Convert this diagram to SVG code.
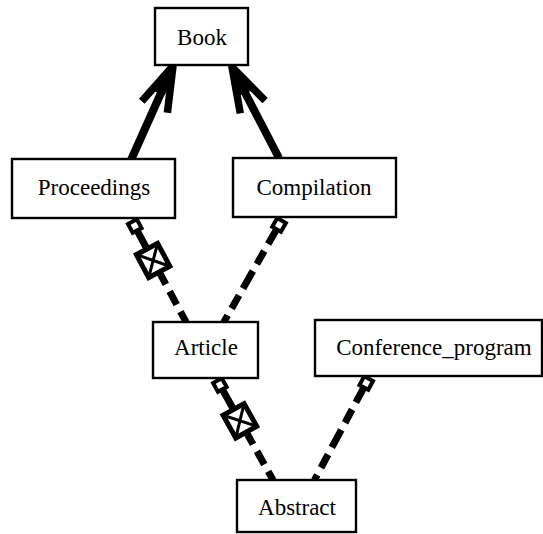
<svg xmlns="http://www.w3.org/2000/svg" width="543" height="534" viewBox="0 0 543 534">
<style>
.box{fill:#fff;stroke:#000;stroke-width:2.4}
.lbl{font-family:"Liberation Serif","Times New Roman",serif;font-size:23px;fill:#000;text-anchor:middle}
.shaft{stroke:#000;stroke-width:8;fill:none}
.barb{stroke:#000;stroke-width:7.5;fill:none;stroke-linecap:butt;stroke-linejoin:miter}
.head{fill:#000;stroke:none}
.dash{stroke:#000;stroke-width:7;fill:none;stroke-dasharray:15 8}
.solid{stroke:#000;stroke-width:7;fill:none}
.sq{fill:#fff;stroke:#000;stroke-width:4}
.xbox{fill:#fff;stroke:#000;stroke-width:5}
.xl{stroke:#000;stroke-width:3}
</style>
<rect width="543" height="534" fill="#fff"/>
<g id="connectors">
  <!-- Proceedings -> Book -->
  <g id="gen1">
    <line class="shaft" x1="131" y1="160" x2="165" y2="84"/>
    <polygon class="head" points="173,66 152,90 160,94 165,95"/>
    <polyline class="barb" points="141.8,101.3 173,66 167.4,112.7"/>
  </g>
  <!-- Compilation -> Book -->
  <g id="gen2">
    <line class="shaft" x1="279" y1="158" x2="240" y2="83"/>
    <polygon class="head" points="232,67 253,90 246,93 240,95"/>
    <polyline class="barb" points="265.1,100.6 232,67 240.3,113.4"/>
  </g>
  <!-- Proceedings - Article -->
  <g id="agg1" transform="translate(131,219) rotate(61.9)">
    <line class="solid" x1="10" y1="0" x2="36" y2="0"/>
    <line class="dash" x1="59" y1="0" x2="117" y2="0"/>
    <rect class="sq" x="3" y="-5" width="10" height="10"/>
    <rect class="xbox" x="34" y="-12" width="26" height="24"/>
    <line class="xl" x1="34" y1="-12" x2="60" y2="12"/>
    <line class="xl" x1="34" y1="12" x2="60" y2="-12"/>
  </g>
  <!-- Compilation - Article -->
  <g id="agg2" transform="translate(283,218) rotate(119.6)">
    <line class="dash" x1="10" y1="0" x2="120" y2="0" style="stroke-dasharray:20 8 15 8"/>
    <rect class="sq" x="3" y="-5" width="10" height="10"/>
  </g>
  <!-- Article - Abstract -->
  <g id="agg3" transform="translate(216,378) rotate(60.8)">
    <line class="solid" x1="10" y1="0" x2="38" y2="0"/>
    <line class="dash" x1="61" y1="0" x2="117" y2="0"/>
    <rect class="sq" x="3" y="-5" width="10" height="10"/>
    <rect class="xbox" x="36" y="-12" width="26" height="24"/>
    <line class="xl" x1="36" y1="-12" x2="62" y2="12"/>
    <line class="xl" x1="36" y1="12" x2="62" y2="-12"/>
  </g>
  <!-- Conference_program - Abstract -->
  <g id="agg4" transform="translate(370,376) rotate(118.1)">
    <line class="dash" x1="10" y1="0" x2="118" y2="0" style="stroke-dasharray:20 8 15 8"/>
    <rect class="sq" x="3" y="-5" width="10" height="10"/>
  </g>
</g>
<g id="book"><rect class="box" x="155" y="8" width="93" height="57"/><text class="lbl" x="202" y="45">Book</text></g>
<g id="proceedings"><rect class="box" x="12" y="159" width="163" height="59"/><text class="lbl" x="94" y="195">Proceedings</text></g>
<g id="compilation"><rect class="box" x="233" y="158" width="163" height="59"/><text class="lbl" x="314" y="195">Compilation</text></g>
<g id="article"><rect class="box" x="153" y="322" width="105" height="56"/><text class="lbl" x="206" y="355">Article</text></g>
<g id="conference_program"><rect class="box" x="315" y="320" width="227" height="56"/><text class="lbl" x="434" y="355">Conference_program</text></g>
<g id="abstract"><rect class="box" x="237" y="480" width="119" height="52"/><text class="lbl" x="297" y="515">Abstract</text></g>
</svg>
